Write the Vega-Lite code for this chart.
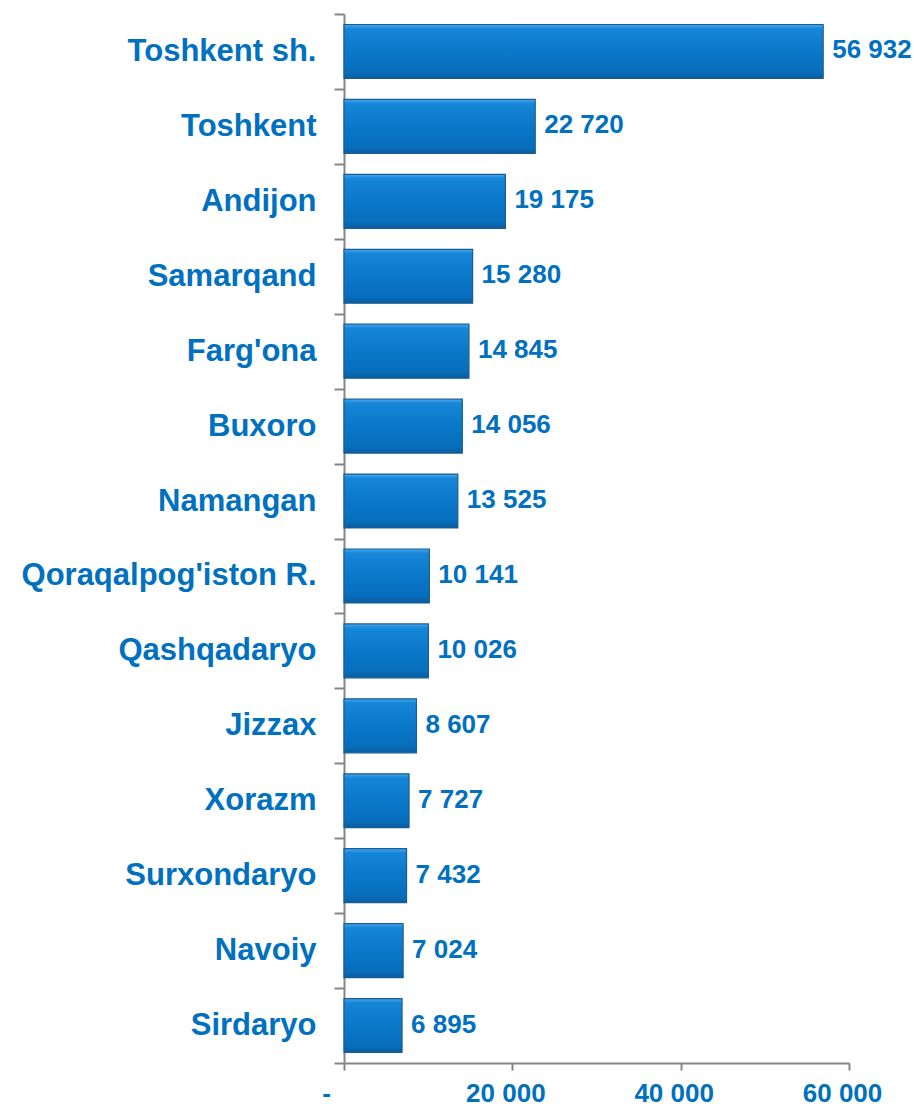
{
  "$schema": "https://vega.github.io/schema/vega-lite/v6.json",
  "autosize": "none",
  "width": 505,
  "height": 1049,
  "padding": {"left": 344, "top": 14, "right": 65, "bottom": 41},
  "background": "white",
  "config": {
    "view": {"stroke": null},
    "locale": {"number": {"decimal": ".", "thousands": " ", "grouping": [3], "currency": ["", ""]}},
    "font": "Liberation Sans"
  },
  "data": {
    "values": [
      {"region": "Toshkent sh.", "value": 56932},
      {"region": "Toshkent", "value": 22720},
      {"region": "Andijon", "value": 19175},
      {"region": "Samarqand", "value": 15280},
      {"region": "Farg'ona", "value": 14845},
      {"region": "Buxoro", "value": 14056},
      {"region": "Namangan", "value": 13525},
      {"region": "Qoraqalpog'iston R.", "value": 10141},
      {"region": "Qashqadaryo", "value": 10026},
      {"region": "Jizzax", "value": 8607},
      {"region": "Xorazm", "value": 7727},
      {"region": "Surxondaryo", "value": 7432},
      {"region": "Navoiy", "value": 7024},
      {"region": "Sirdaryo", "value": 6895}
    ]
  },
  "encoding": {
    "y": {
      "field": "region",
      "type": "nominal",
      "sort": "-x",
      "scale": {"paddingInner": 0, "paddingOuter": 0},
      "axis": {
        "title": null,
        "domainColor": "#868686",
        "domainWidth": 2,
        "tickColor": "#868686",
        "tickWidth": 2,
        "tickSize": 10,
        "tickBand": "extent",
        "labelPadding": 18,
        "labelFont": "Liberation Sans",
        "labelFontSize": 31,
        "labelFontWeight": "bold",
        "labelColor": "#0070C0",
        "labelLimit": 400
      }
    },
    "x": {
      "field": "value",
      "type": "quantitative",
      "scale": {"domain": [0, 60000], "nice": false},
      "axis": {
        "title": null,
        "values": [0, 20000, 40000, 60000],
        "labelExpr": "datum.value == 0 ? '-' : format(datum.value, ',.0f')",
        "grid": false,
        "domainColor": "#868686",
        "domainWidth": 2,
        "tickColor": "#868686",
        "tickWidth": 2,
        "tickSize": 7,
        "labelPadding": 10,
        "labelFont": "Liberation Sans",
        "labelFontSize": 26,
        "labelFontWeight": "bold",
        "labelColor": "#0070C0",
        "labelOffset": {"condition": {"test": "datum.value == 0", "value": -18}, "value": -7},
        "labelFlush": false
      }
    }
  },
  "layer": [
    {
      "mark": {
        "type": "bar",
        "height": {"band": 0.72},
        "stroke": "#1B5C92",
        "strokeWidth": 1.2,
        "fill": {
          "gradient": "linear",
          "x1": 0, "y1": 0, "x2": 0, "y2": 1,
          "stops": [
            {"offset": 0, "color": "#46A8EE"},
            {"offset": 0.08, "color": "#1686D8"},
            {"offset": 0.5, "color": "#0A78C8"},
            {"offset": 0.88, "color": "#076EBC"},
            {"offset": 1, "color": "#0A5C9E"}
          ]
        }
      }
    },
    {
      "mark": {
        "type": "text",
        "align": "left",
        "baseline": "middle",
        "dx": 9,
        "dy": -1,
        "font": "Liberation Sans",
        "fontSize": 26,
        "fontWeight": "bold",
        "color": "#0070C0"
      },
      "encoding": {
        "text": {"field": "value", "type": "quantitative", "format": ",.0f"}
      }
    }
  ]
}
